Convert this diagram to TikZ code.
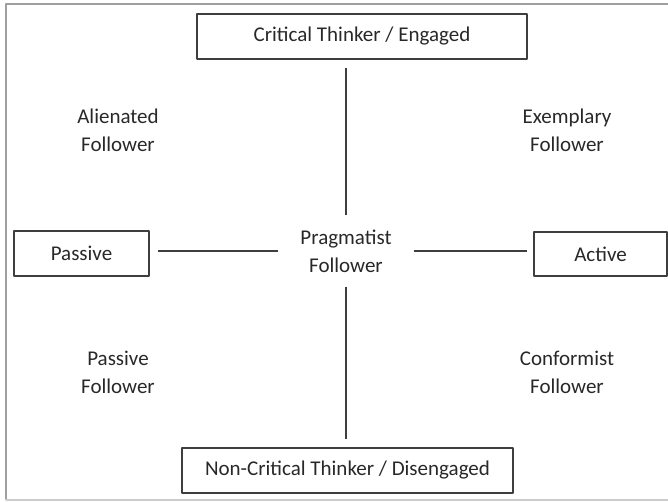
\documentclass[tikz,border=0pt]{standalone}
\usepackage{fontspec}
\setmainfont{Carlito}
\begin{document}
\begin{tikzpicture}[x=1pt, y=-1pt, line cap=round, line join=round,
  every node/.style={font=\fontsize{21}{28}\selectfont, text=textgray},
  boxnode/.style={draw=linegray, line width=1.6pt, inner sep=0pt, minimum height=45pt},
  axisline/.style={draw=linegray, line width=1.8pt, line cap=butt},
  quadlabel/.style={align=center}]
  \definecolor{linegray}{RGB}{62,62,62}
  \definecolor{textgray}{RGB}{40,40,40}
  \useasboundingbox (0,0) rectangle (668,502);
  \draw[gray!75, line width=2pt] (668,4) -- (6,4) -- (6,499);
  \draw[gray!40, line width=2pt] (6,500) -- (668,500);
  \node[boxnode, minimum width=330pt] (engaged) at (362,36.5) {Critical Thinker / Engaged};
  \node[boxnode, minimum width=331pt] (disengaged) at (347.5,470.5) {Non-Critical Thinker / Disengaged};
  \node[boxnode, minimum width=135pt] (passive) at (81.5,253.5) {Passive};
  \node[boxnode, minimum width=133pt, minimum height=44pt] (active) at (600.5,254) {Active};
  \node[quadlabel, inner sep=0pt, minimum width=135pt, minimum height=71pt] (pragmatist) at (346,251) {Pragmatist\\Follower};
  \node[quadlabel] (alienated) at (118,130) {Alienated\\Follower};
  \node[quadlabel] (exemplary) at (567,130) {Exemplary\\Follower};
  \node[quadlabel] (passivef) at (118,372) {Passive\\Follower};
  \node[quadlabel] (conformist) at (567,372) {Conformist\\Follower};
  \draw[axisline, shorten >=8pt] (pragmatist.north) -- (pragmatist.north |- engaged.south);
  \draw[axisline, shorten >=8pt] (pragmatist.south) -- (pragmatist.south |- disengaged.north);
  \draw[axisline, shorten >=8pt] (pragmatist.west) -- (pragmatist.west -| passive.east);
  \draw[axisline, shorten >=6pt] (pragmatist.east) -- (pragmatist.east -| active.west);
\end{tikzpicture}
\end{document}
